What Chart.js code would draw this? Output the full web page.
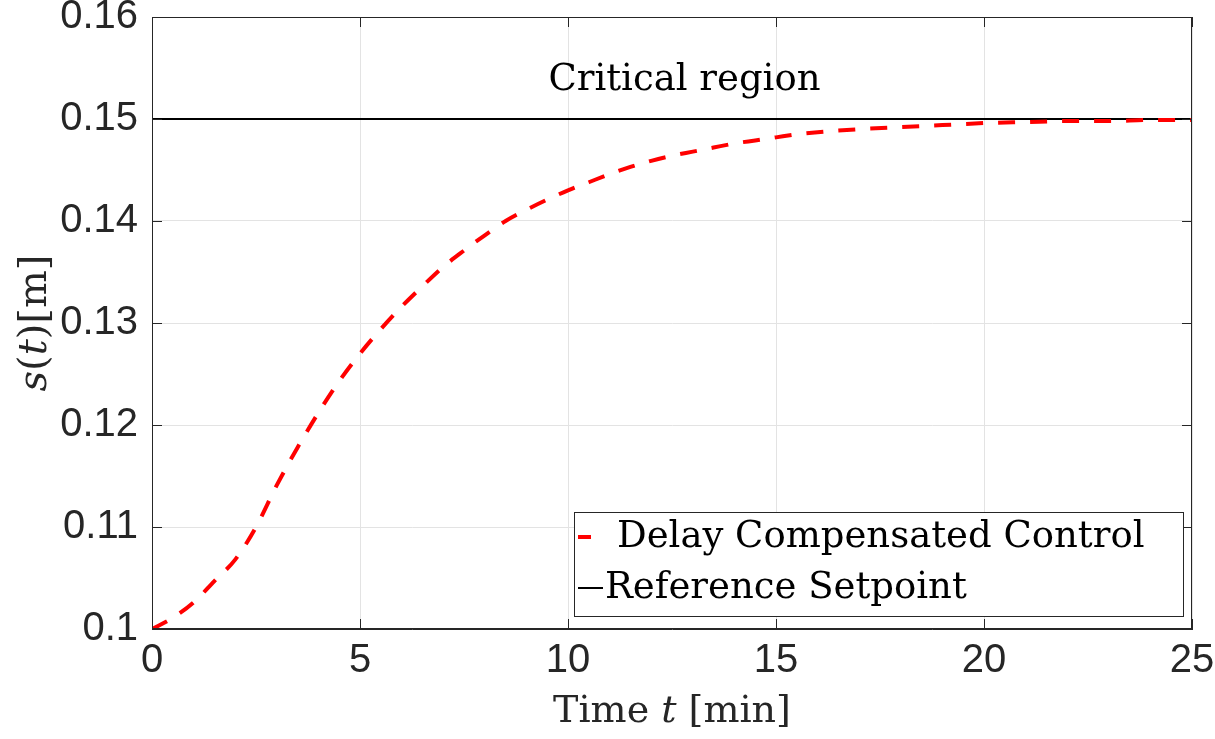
<!DOCTYPE html>
<html>
<head>
<meta charset="utf-8">
<script src="https://cdn.jsdelivr.net/npm/chart.js@4.4.1/dist/chart.umd.min.js"></script>
<style>
  html, body { margin: 0; padding: 0; background: #fff; }
  #wrap { width: 1215px; height: 739px; }
</style>
</head>
<body>
<div id="wrap"><canvas id="c" width="1215" height="739"></canvas></div>
<script>
// ---- data ----
const timeMin = [0, 0.5, 1, 1.5, 2, 2.5, 3, 3.5, 4, 4.5, 5, 5.5, 6, 6.5, 7, 7.5, 8, 8.5, 9, 9.5,
                 10, 10.5, 11, 11.5, 12, 12.5, 13, 13.5, 14, 14.5, 15, 15.5, 16, 17, 18, 19, 20, 21, 22, 23, 24, 25];
const delayCompensated = [0.1000, 0.1011, 0.1026, 0.1047, 0.1068, 0.1100, 0.1141, 0.1178, 0.1212, 0.1243,
                          0.1270, 0.1294, 0.1316, 0.1336, 0.1355, 0.1371, 0.1386, 0.1400, 0.1411, 0.1421,
                          0.1430, 0.1438, 0.1446, 0.1453, 0.1459, 0.1464, 0.1468, 0.1472, 0.1476, 0.1479,
                          0.1482, 0.1485, 0.1487, 0.1490, 0.1492, 0.1494, 0.1496, 0.1497, 0.1498, 0.1498, 0.1499, 0.1499];
const setpointT = [0, 25];
const setpointS = [0.15, 0.15];
const xTicks = [0, 5, 10, 15, 20, 25];
const yTicks = [0.1, 0.11, 0.12, 0.13, 0.14, 0.15, 0.16];
const seriesLabels = ['Delay Compensated Control', 'Reference Setpoint'];
const annotationText = 'Critical region';
const annotationPos = { x: 12.8, y: 0.1538 };

const AX = '#262626';
const SERIF = '"DejaVu Serif", "Liberation Serif", serif';
const SANS = '"Liberation Sans", Arial, sans-serif';

const extras = {
  id: 'extras',
  afterDraw(chart) {
    const ctx = chart.ctx;
    const a = chart.chartArea;
    const xs = chart.scales.x, ys = chart.scales.y;
    ctx.save();
    // frame
    ctx.strokeStyle = AX; ctx.lineWidth = 1;
    ctx.strokeRect(a.left + 0.5, a.top + 0.5, a.right - a.left - 1, a.bottom - a.top - 1);
    // inward ticks on all sides
    const tl = 10;
    ctx.beginPath();
    xTicks.forEach(v => {
      const px = Math.round(xs.getPixelForValue(v)) + 0.5;
      ctx.moveTo(px, a.bottom); ctx.lineTo(px, a.bottom - tl);
      ctx.moveTo(px, a.top); ctx.lineTo(px, a.top + tl);
    });
    yTicks.forEach(v => {
      const py = Math.round(ys.getPixelForValue(v)) + 0.5;
      ctx.moveTo(a.left, py); ctx.lineTo(a.left + tl, py);
      ctx.moveTo(a.right, py); ctx.lineTo(a.right - tl, py);
    });
    ctx.stroke();

    // annotation
    ctx.fillStyle = '#000';
    ctx.font = '37px ' + SERIF;
    ctx.textAlign = 'center'; ctx.textBaseline = 'middle';
    ctx.fillText(annotationText, xs.getPixelForValue(annotationPos.x), ys.getPixelForValue(annotationPos.y));

    const drawParts = (parts, cx, cy) => {
      let w = 0;
      parts.forEach(p => { ctx.font = p.f; w += ctx.measureText(p.t).width; });
      let x = cx - w / 2;
      ctx.textAlign = 'left';
      parts.forEach(p => { ctx.font = p.f; ctx.fillText(p.t, x, cy); x += ctx.measureText(p.t).width; });
    };
    ctx.fillStyle = AX;
    ctx.textBaseline = 'middle';
    const up = '38px ' + SERIF, it = 'italic 38px ' + SERIF;
    drawParts([{t: 'Time ', f: up}, {t: 't', f: it}, {t: ' [min]', f: up}], (a.left + a.right) / 2, 712);
    ctx.save();
    ctx.translate(36, (a.top + a.bottom) / 2);
    ctx.rotate(-Math.PI / 2);
    const up2 = '40px ' + SERIF, it2 = 'italic 40px ' + SERIF;
    drawParts([{t: 's', f: it2}, {t: '(', f: up2}, {t: 't', f: it2}, {t: ')[m]', f: up2}], 0, 0);
    ctx.restore();

    // legend
    const lw = 609, lh = 104;
    const lx = a.right - 9 - lw, ly = a.bottom - 13 - lh;
    ctx.fillStyle = '#fff';
    ctx.fillRect(lx, ly, lw, lh);
    ctx.strokeStyle = '#262626'; ctx.lineWidth = 1;
    ctx.strokeRect(lx + 0.5, ly + 0.5, lw, lh);
    ctx.font = '37px ' + SERIF;
    ctx.fillStyle = '#000';
    ctx.textAlign = 'left'; ctx.textBaseline = 'middle';
    const r1 = ly + 25, r2 = ly + 76;
    ctx.strokeStyle = '#ff0000'; ctx.lineWidth = 4;
    ctx.beginPath(); ctx.moveTo(lx + 4, r1); ctx.lineTo(lx + 17, r1); ctx.stroke();
    ctx.fillText(chart.data.datasets[0].label, lx + 43, r1);
    ctx.strokeStyle = '#000'; ctx.lineWidth = 2;
    ctx.beginPath(); ctx.moveTo(lx + 4, r2); ctx.lineTo(lx + 29, r2); ctx.stroke();
    ctx.fillText(chart.data.datasets[1].label, lx + 31, r2);
    ctx.restore();
  }
};

new Chart(document.getElementById('c'), {
  type: 'line',
  data: {
    datasets: [
      {
        label: seriesLabels[0],
        data: timeMin.map((t, i) => ({ x: t, y: delayCompensated[i] })),
        borderColor: '#ff0000',
        borderWidth: 4,
        borderDash: [17, 15],
        pointRadius: 0,
        cubicInterpolationMode: 'monotone',
        fill: false
      },
      {
        label: seriesLabels[1],
        data: setpointT.map((t, i) => ({ x: t, y: setpointS[i] })),
        borderColor: '#000000',
        borderWidth: 2,
        pointRadius: 0,
        fill: false
      }
    ]
  },
  options: {
    responsive: false,
    animation: false,
    devicePixelRatio: 1,
    layout: { padding: { top: 17, right: 23, left: 0, bottom: 0 } },
    plugins: { legend: { display: false }, tooltip: { enabled: false } },
    scales: {
      x: {
        type: 'linear', min: 0, max: 25,
        afterFit: s => { s.height = 110; s.paddingLeft = 0; s.paddingRight = 0; },
        afterBuildTicks: s => { s.ticks = xTicks.map(v => ({ value: v })); },
        ticks: { color: AX, font: { family: SANS, size: 40 }, padding: 8, maxRotation: 0, autoSkip: false,
                 callback: v => String(v) },
        grid: { color: '#e3e3e3', lineWidth: 1, drawTicks: false },
        border: { display: true, color: AX, width: 1 }
      },
      y: {
        type: 'linear', min: 0.1, max: 0.16,
        afterFit: s => { s.width = 152; s.paddingTop = 0; s.paddingBottom = 0; },
        afterBuildTicks: s => { s.ticks = yTicks.map(v => ({ value: v })); },
        ticks: { color: AX, font: { family: SANS, size: 40 }, padding: 14, autoSkip: false,
                 callback: v => String(Math.round(v * 100) / 100) },
        grid: { color: '#e3e3e3', lineWidth: 1, drawTicks: false },
        border: { display: true, color: AX, width: 1 }
      }
    }
  },
  plugins: [extras]
});
</script>
</body>
</html>
